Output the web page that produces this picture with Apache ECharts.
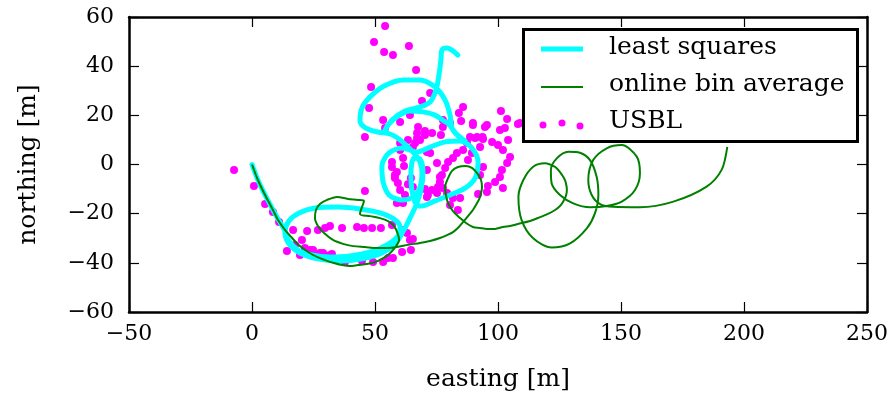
<!DOCTYPE html>
<html>
<head>
<meta charset="utf-8">
<script src="https://cdn.jsdelivr.net/npm/echarts@6/dist/echarts.min.js"></script>
<style>html,body{margin:0;padding:0;background:#fff}#c{width:896px;height:398px}</style>
</head>
<body>
<div id="c"></div>
<script>
// ---- data (easting, northing in metres) ----
const xTicks = [-50, 0, 50, 100, 150, 200, 250];
const yTicks = [-60, -40, -20, 0, 20, 40, 60];

const leastSquares = [
 [0,0],[2.4,-6.3],[5.3,-12.4],[8.1,-17.7],[10.6,-22.2],[13.0,-26.2],
 [15.0,-31.1],[18.7,-34.8],[24.4,-36.8],[31.7,-37.6],[39.8,-37.2],[48.0,-35.6],[54.9,-32.7],[59.3,-29.1],
 [60.2,-25.4],[57.7,-22.2],[52.0,-19.7],[43.9,-18.1],[35.0,-17.3],[25.6,-17.7],[19.1,-19.7],[15.0,-23.0],
 [13.4,-27.5],[15.0,-32.3],[19.5,-36.0],[26.8,-38.4],[35.8,-39.3],[44.7,-38.4],[52.8,-36.0],[58.5,-31.9],
 [61.8,-26.6],[64.2,-21.8],[66.7,-16.5],
 [68.7,-10.4],[69.5,-3.5],[68.3,2.2],[65.9,2.6],[64.6,-3.1],[65.0,-10.4],[66.7,-16.1],[69.1,-16.9],
 [74.4,-14.8],[80.5,-12.4],[86.6,-9.6],[90.7,-5.5],[91.9,1.0],[89.4,6.7],[84.6,9.6],[78.5,9.2],[72.4,7.1],[67.1,5.1],
 [61.0,6.7],[55.7,4.7],[52.8,-0.6],[53.3,-7.1],[55.7,-12.4],[60.6,-14.4],[65.4,-13.2],[68.3,-9.2],[69.1,-3.1],
 [67.5,2.6],[63.8,6.7],[60.2,10.0],[56.1,12.4],
 [51.2,13.2],[46.3,14.8],[43.9,17.7],[44.7,23.0],[48.0,27.5],[53.7,31.9],[61.4,34.4],[68.3,34.4],[74.4,31.5],
 [78.5,26.2],[80.5,20.1],[81.3,14.8],[83.7,11.6],[86.6,9.6],[83.0,12.5],[80.0,16.5],
 [78.0,17.7],[74.4,20.1],[69.5,21.4],[64.2,21.8],[59.3,19.7],[55.3,16.1],[53.7,13.2],[56.9,18.1],[62.2,21.8],
 [68.3,23.4],[72.4,25.4],[74.8,30.3],[76.0,36.4],[76.8,42.5],[77.2,46.6],[79.3,47.4],[81.7,46.2],[83.7,44.5]
];

const onlineBinAverage = [
 [0,0],[2.4,-6.3],[5.3,-12.4],[8.1,-17.7],[10.6,-22.6],[13.4,-26.6],[16.3,-29.9],[19.5,-33.2],[22.8,-35.6],
 [26.4,-37.6],[29.7,-38.9],[33.3,-40.1],[36.6,-40.9],[39.8,-41.3],[43.1,-40.9],[46.7,-40.5],[50.0,-39.7],
 [52.8,-38.4],[55.3,-36.8],[57.3,-34.8],[58.9,-32.7],[59.8,-30.7],[59.3,-28.3],[57.7,-25.0],[55.3,-23.0],
 [52.0,-21.8],[48.0,-21.0],[43.9,-20.1],[45.5,-14.8],[43.1,-14.4],[39.0,-14.0],[34.6,-13.2],[30.5,-14.4],
 [27.6,-16.1],[26.0,-18.5],[25.6,-21.8],[26.8,-25.0],[29.3,-27.9],[32.9,-30.7],[37.0,-32.3],[41.1,-33.2],
 [45.9,-33.6],[50.8,-34.0],[54.9,-34.0],[58.9,-33.6],[63.4,-32.7],[68.3,-31.9],[72.4,-31.1],[76.4,-29.9],
 [79.3,-28.7],[81.7,-27.5],[84.1,-25.4],[85.8,-23.4],[87.8,-21.0],[89.8,-18.5],[91.5,-15.7],[92.7,-13.2],
 [93.5,-9.2],[93.1,-6.3],[91.5,-3.5],[89.4,-1.4],[87.0,-0.6],[83.7,-1.0],[81.3,-2.6],[79.7,-5.5],[78.5,-9.2],
 [78.9,-12.8],[79.7,-15.7],[81.7,-19.0],[84.6,-21.8],[87.0,-23.8],[89.8,-25.4],[92.7,-25.8],[95.5,-26.2],
 [98.8,-26.2],[102.0,-25.4],[104.9,-25.0],[108.1,-24.2],[113.0,-23.0],[117.1,-21.4],[120.3,-20.1],
 [123.2,-18.5],[125.2,-16.9],[126.4,-15.3],[127.6,-12.8],[128.0,-10.4],[127.6,-7.5],[126.8,-5.5],
 [125.2,-3.1],[123.2,-1.0],[119.1,0.5],[114.3,-0.9],[110.3,-6.3],[108.3,-13.1],[109.6,-22.6],[114.3,-30.0],
 [121.8,-33.8],[129.3,-32.1],[136.1,-26.0],[139.4,-19.9],[140.8,-12.4],[140.1,-5.0],[137.4,1.8],[133.3,4.8],
 [128.6,5.2],[123.9,2.5],[121.5,-2.2],[121.8,-7.6],[125.2,-12.4],[130.6,-15.8],[137.4,-17.4],[144.2,-16.9],
 [150.3,-15.1],[155.7,-10.4],[157.7,-3.6],[156.4,3.2],[150.3,7.9],[144.2,6.6],[138.7,1.8],[136.7,-6.3],
 [138.1,-12.4],[141.5,-16.1],[146.9,-17.2],[157.7,-17.4],[171.3,-15.1],[184.8,-9.0],[190.9,-2.2],[193.2,7.2]
];

const usbl = [
 [-7.3,-2.2],[0.8,-8.7],[5.3,-16.1],[8.5,-19.3],[11.0,-23.4],[14.2,-35.2],[16.7,-26.6],[19.5,-36.8],
 [20.3,-30.7],[22.4,-27.1],[23.6,-34.8],[26.8,-26.6],[27.6,-36.0],[29.7,-25.8],[31.7,-36.8],[31.7,-25.0],
 [36.6,-25.8],[37.8,-39.7],[42.7,-25.4],[44.7,-39.3],[45.5,-25.8],[48.8,-25.8],[49.2,-39.7],[52.4,-25.8],
 [53.3,-39.7],[56.9,-24.6],[57.3,-38.0],[61.0,-35.6],[63.0,-27.9],[65.4,-30.3],[64.6,-34.8],[45.9,-10.8],
 [17.5,-32.7],[21.5,-34.0],[24.8,-34.8],[28.9,-36.0],[32.5,-36.4],[55.3,-38.0],[61.0,-26.6],[64.2,-30.7],
 [53.3,18.1],[54.1,14.8],[60.2,17.3],[64.2,20.1],[67.5,15.3],[70.3,13.6],[73.2,12.8],[76.8,12.0],[67.1,10.8],
 [60.2,8.7],[65.4,7.1],[56.9,1.0],[61.4,2.6],[58.9,-3.1],[58.1,-5.5],[59.3,-7.5],[60.2,-10.4],[62.2,-12.4],
 [58.9,-15.7],[61.4,-15.7],[65.4,-9.2],[70.3,-10.0],[71.5,-12.4],[75.2,-11.6],[71.1,-13.2],[45.9,11.2],
 [67.1,12.8],[70.3,12.0],[66.3,8.7],[75.6,-9.2],[58.1,-4.3],[56.9,-1.0],[60.2,5.9],[63.4,10.0],
 [77.6,15.3],[80.5,16.9],[85.0,17.7],[85.8,23.4],[84.1,20.9],[89.8,16.1],[95.5,16.1],[101.2,21.8],[103.7,18.5],
 [108.1,16.5],[100.8,14.0],[91.5,11.2],[93.9,10.4],[97.6,9.2],[100.0,7.9],[102.0,5.9],[104.9,3.1],[103.7,0.6],
 [101.6,-2.2],[100.8,-5.1],[98.8,-7.1],[95.9,-8.7],[102.0,-9.6],[95.5,-11.2],[91.9,-12.0],[88.6,11.2],
 [87.4,8.7],[85.8,5.9],[83.3,4.7],[81.7,2.6],[79.7,1.0],[78.5,-1.4],[77.2,-4.3],[76.4,-7.1],[77.6,-9.6],
 [79.3,-11.6],[81.7,-13.6],[84.6,-13.6],[93.9,-1.0],[92.7,-4.3],[90.7,10.8],[92.7,7.1],[89.4,4.7],[87.8,1.8],
 [71.1,5.1],[72.4,4.7],[75.2,0.6],[71.1,-2.2],[76.4,-5.1],[73.2,-10.4],[68.3,10.0],[80.5,-16.5],[83.7,-18.5],
 [77.6,18.1],[89.8,16.9],[94.7,15.3],[93.7,11.2],[104.1,10.0],[102.8,14.8],[108.9,16.9],
 [54.1,56.3],[49.6,49.8],[63.8,48.2],[53.7,45.8],[57.3,44.5],[66.7,38.4],[48.4,31.5],[72.4,29.1],[69.1,25.8],
 [47.6,23.0],[64.6,-5.5],[61.8,-0.6],[63.4,-8.0]
];

const names = ['least squares', 'online bin average', 'USBL'];
const colors = ['#00ffff', '#008000', '#ff00ff'];

const FONT = 'DejaVu Serif';
const fmt = v => String(v).replace('-', '\u2212');

const chart = echarts.init(document.getElementById('c'), null, {renderer: 'canvas'});
const gridL = 129, gridR = 29, gridT = 17, gridB = 86;

const baseAxis = {
  axisLine: {show: true, onZero: false, lineStyle: {color: '#000', width: 2.5}},
  axisTick: {show: true, inside: true, length: 10, lineStyle: {color: '#000', width: 1.2}},
  splitLine: {show: false}
};

chart.setOption({
  animation: false,
  backgroundColor: '#fff',
  grid: {left: gridL, right: gridR, top: gridT, bottom: gridB, containLabel: false},
  xAxis: [
    Object.assign({}, baseAxis, {
      type: 'value', position: 'bottom', min: xTicks[0], max: xTicks[xTicks.length-1], interval: 50,
      name: 'easting [m]', nameLocation: 'middle', nameGap: 55,
      nameTextStyle: {fontFamily: FONT, fontSize: 25, color: '#000'},
      axisLabel: {fontFamily: FONT, fontSize: 22, color: '#000', margin: 11, formatter: fmt}
    }),
    Object.assign({}, baseAxis, {
      type: 'value', position: 'top', min: xTicks[0], max: xTicks[xTicks.length-1], interval: 50,
      axisLabel: {show: false}
    })
  ],
  yAxis: [
    Object.assign({}, baseAxis, {
      type: 'value', position: 'left', min: yTicks[0], max: yTicks[yTicks.length-1], interval: 20,
      name: 'northing [m]', nameLocation: 'middle', nameGap: 88,
      nameTextStyle: {fontFamily: FONT, fontSize: 25, color: '#000'},
      axisLabel: {fontFamily: FONT, fontSize: 22, color: '#000', margin: 15, formatter: fmt}
    }),
    Object.assign({}, baseAxis, {
      type: 'value', position: 'right', min: yTicks[0], max: yTicks[yTicks.length-1], interval: 20,
      axisLabel: {show: false}
    })
  ],
  series: [
    {name: names[2], type: 'scatter', data: usbl, symbol: 'circle', symbolSize: 8, z: 2,
     itemStyle: {color: colors[2], opacity: 1}},
    {name: names[0], type: 'line', data: leastSquares, showSymbol: false, symbol: 'none', z: 3, smooth: 0.3,
     lineStyle: {color: colors[0], width: 5, join: 'round', cap: 'round'}},
    {name: names[1], type: 'line', data: onlineBinAverage, showSymbol: false, symbol: 'none', z: 4, smooth: 0.3,
     lineStyle: {color: colors[1], width: 2, join: 'round'}}
  ],
  graphic: [
    {type: 'rect', z: 100, shape: {x: 523.5, y: 29.5, width: 334, height: 112},
     style: {fill: '#fff', stroke: '#000', lineWidth: 3}},
    {type: 'line', z: 101, shape: {x1: 541, y1: 49, x2: 583, y2: 49},
     style: {stroke: colors[0], lineWidth: 5}},
    {type: 'line', z: 101, shape: {x1: 541, y1: 87, x2: 583, y2: 87},
     style: {stroke: colors[1], lineWidth: 2}},
    {type: 'circle', z: 101, shape: {cx: 543, cy: 125, r: 3.5}, style: {fill: colors[2]}},
    {type: 'circle', z: 101, shape: {cx: 562, cy: 123, r: 3.5}, style: {fill: colors[2]}},
    {type: 'circle', z: 101, shape: {cx: 580, cy: 126, r: 3.5}, style: {fill: colors[2]}},
    {type: 'text', z: 101, left: 609, top: 35, style: {text: names[0], font: '25px "DejaVu Serif"', fill: '#000'}},
    {type: 'text', z: 101, left: 609, top: 72, style: {text: names[1], font: '25px "DejaVu Serif"', fill: '#000'}},
    {type: 'text', z: 101, left: 609, top: 109, style: {text: names[2], font: '25px "DejaVu Serif"', fill: '#000'}}
  ]
});
</script>
</body>
</html>
